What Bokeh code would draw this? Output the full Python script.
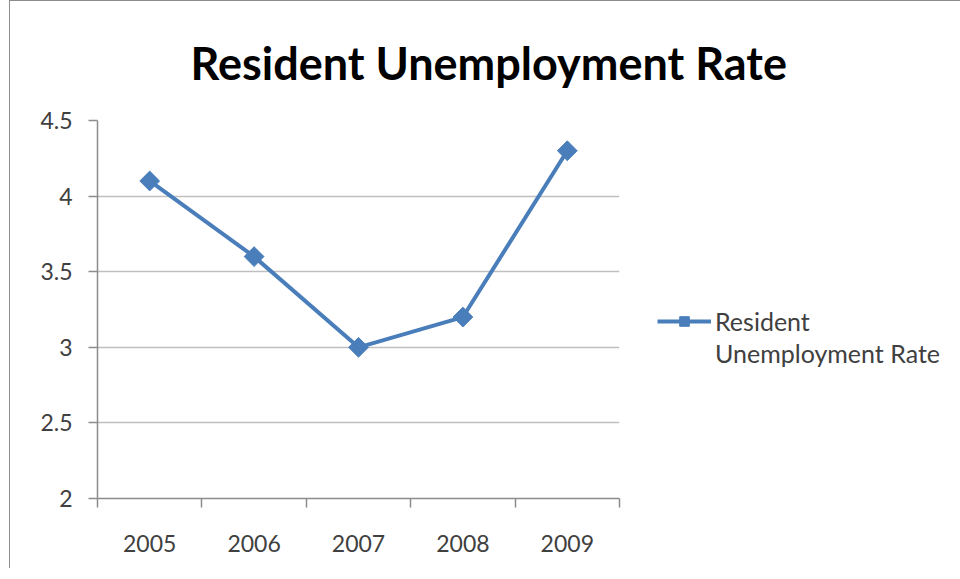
import math
from bokeh.plotting import figure
from bokeh.models import FixedTicker, Legend, LegendItem, Range1d
from bokeh.embed import file_html
from bokeh.resources import INLINE

years = ["2005", "2006", "2007", "2008", "2009"]
rates = [4.1, 3.6, 3.0, 3.2, 4.3]
y_ticks = [2, 2.5, 3, 3.5, 4, 4.5]
y_tick_labels = ["2", "2.5", "3", "3.5", "4", "4.5"]
series_name_lines = ["Resident", "Unemployment Rate"]
title_text = "Resident Unemployment Rate"

x_pos = [i + 0.5 for i in range(len(years))]
x_bounds = list(range(len(years) + 1))

FONT = "Lato"
BLUE = "#4a7ebb"
GRAY = "#8c8c8c"
LABEL = "#404040"

p = figure(frame_width=522, frame_height=378, output_backend="svg",
           toolbar_location=None,
           x_range=Range1d(0, len(years)), y_range=Range1d(y_ticks[0], y_ticks[-1]),
           min_border_left=87, min_border_right=0, min_border_top=119,
           min_border_bottom=70)
p.margin = (0, 0, 0, 9)
p.styles = {"border-left": "1px solid #8c8c8c", "border-top": "1px solid #8c8c8c"}

p.title.text = title_text
p.title.text_font = FONT
p.title.text_font_size = "45px"
p.title.text_font_style = "bold"
p.title.text_color = "#000000"
p.title.align = "left"
p.title.offset = 93
p.title.standoff = 62

line = p.line(x_pos, rates, line_color=BLUE, line_width=4)
pts = p.scatter(x_pos, rates, marker="square", size=14, angle=math.pi / 4,
                fill_color=BLUE, line_color=BLUE)
# invisible stand-in so the second legend line carries no glyph
blank = p.line([], [], line_alpha=0)

p.outline_line_color = None
p.xgrid.visible = False
p.ygrid.ticker = FixedTicker(ticks=y_ticks)
p.ygrid.grid_line_color = "#bfbfbf"
p.ygrid.grid_line_width = 1.5

xa = p.xaxis[0]
xa.ticker = FixedTicker(ticks=x_pos, minor_ticks=x_bounds)
xa.major_label_overrides = {x: y for x, y in zip(x_pos, years)}
xa.major_tick_out = 0
xa.major_tick_in = 0
xa.minor_tick_out = 9
xa.minor_tick_in = 0
xa.minor_tick_line_color = GRAY
xa.minor_tick_line_width = 1.5
xa.axis_line_color = GRAY
xa.axis_line_width = 1.5
xa.major_label_standoff = 27
xa.major_label_text_font = FONT
xa.major_label_text_font_size = "23px"
xa.major_label_text_color = LABEL

ya = p.yaxis[0]
ya.ticker = FixedTicker(ticks=y_ticks, minor_ticks=[])
ya.major_label_overrides = {t: s for t, s in zip(y_ticks, y_tick_labels)}
ya.major_tick_out = 9
ya.major_tick_in = 0
ya.major_tick_line_color = GRAY
ya.major_tick_line_width = 1.5
ya.axis_line_color = GRAY
ya.axis_line_width = 1.5
ya.major_label_standoff = 16
ya.major_label_text_font = FONT
ya.major_label_text_font_size = "23px"
ya.major_label_text_color = LABEL

legend = Legend(items=[LegendItem(label=series_name_lines[0], renderers=[line, pts]),
                       LegendItem(label=series_name_lines[1], renderers=[blank])],
                location=(38, 130), border_line_color=None,
                background_fill_alpha=0, glyph_width=54, glyph_height=24,
                label_height=24, spacing=2,
                label_text_font=FONT, label_text_font_size="25px",
                label_text_color=LABEL, label_standoff=4, padding=4, margin=0)
p.add_layout(legend, "right")

open("out.html", "w").write(file_html(p, INLINE))
